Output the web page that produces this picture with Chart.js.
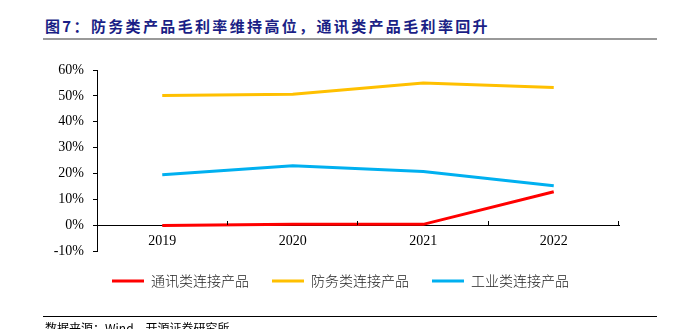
<!DOCTYPE html>
<html>
<head>
<meta charset="utf-8">
<script src="https://cdn.jsdelivr.net/npm/chart.js@4.4.1/dist/chart.umd.min.js"></script>
<style>
body { margin: 0; width: 676px; height: 329px; overflow: hidden; background: #fff; position: relative; }
#title { position: absolute; left: 45px; top: 18px; font: bold 15px/15px "Noto Sans CJK SC", sans-serif; letter-spacing: 2.35px; color: #1b1f86; white-space: nowrap; }
#titleRule { position: absolute; left: 43px; top: 38px; width: 614px; height: 2px; background: #999; }
#footRule { position: absolute; left: 43px; top: 316px; width: 614px; height: 1px; background: #000; }
#source { position: absolute; left: 45px; top: 322px; font: 12px/12px "Noto Sans CJK SC", sans-serif; color: #000; white-space: nowrap; }
#wrap { position: absolute; left: 0; top: 0; width: 676px; height: 329px; }
</style>
</head>
<body>
<div id="title">图7：防务类产品毛利率维持高位，通讯类产品毛利率回升</div>
<div id="titleRule"></div>
<div id="wrap"><canvas id="chart" width="676" height="329"></canvas></div>
<div id="footRule"></div>
<div id="source">数据来源：Wind、开源证券研究所</div>
<script>
var years = ['2019', '2020', '2021', '2022'];
var telecom = [-0.1, 0.3, 0.3, 12.9];
var defense = [50.1, 50.6, 55.0, 53.2];
var industrial = [19.5, 23.0, 20.7, 15.2];
var seriesNames = ['通讯类连接产品', '防务类连接产品', '工业类连接产品'];

// little upward tick marks on the category boundaries of the x axis
var upTicks = {
    id: 'upTicks',
    afterLayout: function(chart) {
        // legend sits a bit right of the canvas centre in the original
        chart.legend.left += 6;
        chart.legend.right += 6;
    },
    afterDatasetsDraw: function(chart) {
        var xs = chart.scales.x;
        var y0 = chart.scales.y.getPixelForValue(0);
        var step = xs.width / years.length;
        var ctx = chart.ctx;
        ctx.save();
        ctx.strokeStyle = '#000';
        ctx.lineWidth = 1;
        ctx.beginPath();
        for (var i = 1; i <= years.length; i++) {
            var x = Math.round(xs.left + i * step) - 0.5;
            ctx.moveTo(x, Math.round(y0));
            ctx.lineTo(x, Math.round(y0) - 4);
        }
        ctx.stroke();
        ctx.restore();
    }
};

var tickFont = { family: '"Liberation Serif", "Times New Roman", serif', size: 14 };

new Chart(document.getElementById('chart').getContext('2d'), {
    type: 'line',
    data: {
        labels: years,
        datasets: [
            { label: seriesNames[0], data: telecom, borderColor: '#ff0000', backgroundColor: '#ff0000', borderWidth: 3 },
            { label: seriesNames[1], data: defense, borderColor: '#ffc000', backgroundColor: '#ffc000', borderWidth: 3 },
            { label: seriesNames[2], data: industrial, borderColor: '#00b0f0', backgroundColor: '#00b0f0', borderWidth: 3 }
        ]
    },
    options: {
        responsive: false,
        animation: false,
        devicePixelRatio: 1,
        elements: {
            line: { borderWidth: 3, tension: 0 },
            point: { radius: 0 }
        },
        layout: { padding: { top: 70, left: 50, right: 57, bottom: 31 } },
        scales: {
            x: {
                type: 'category',
                offset: true,
                position: { y: 0 },
                grid: { display: false },
                border: { display: true, color: '#000', width: 1 },
                ticks: { color: '#000', font: tickFont, padding: 0, maxRotation: 0 }
            },
            y: {
                min: -10,
                max: 60,
                grid: { display: true, drawOnChartArea: false, drawTicks: true, tickLength: 4, color: '#000' },
                border: { display: true, color: '#000', width: 1 },
                ticks: {
                    stepSize: 10,
                    color: '#000',
                    font: tickFont,
                    padding: 9,
                    callback: function(v) { return v + '%'; }
                },
                afterFit: function(scale) { scale.width = 47; }
            }
        },
        plugins: {
            legend: {
                position: 'bottom',
                labels: {
                    usePointStyle: true,
                    pointStyle: 'line',
                    pointStyleWidth: 32,
                    padding: 23,
                    color: '#222',
                    font: { family: '"Noto Sans CJK SC", sans-serif', size: 14, weight: 300 }
                }
            },
            tooltip: { enabled: false }
        }
    },
    plugins: [upTicks]
});
</script>
</body>
</html>
